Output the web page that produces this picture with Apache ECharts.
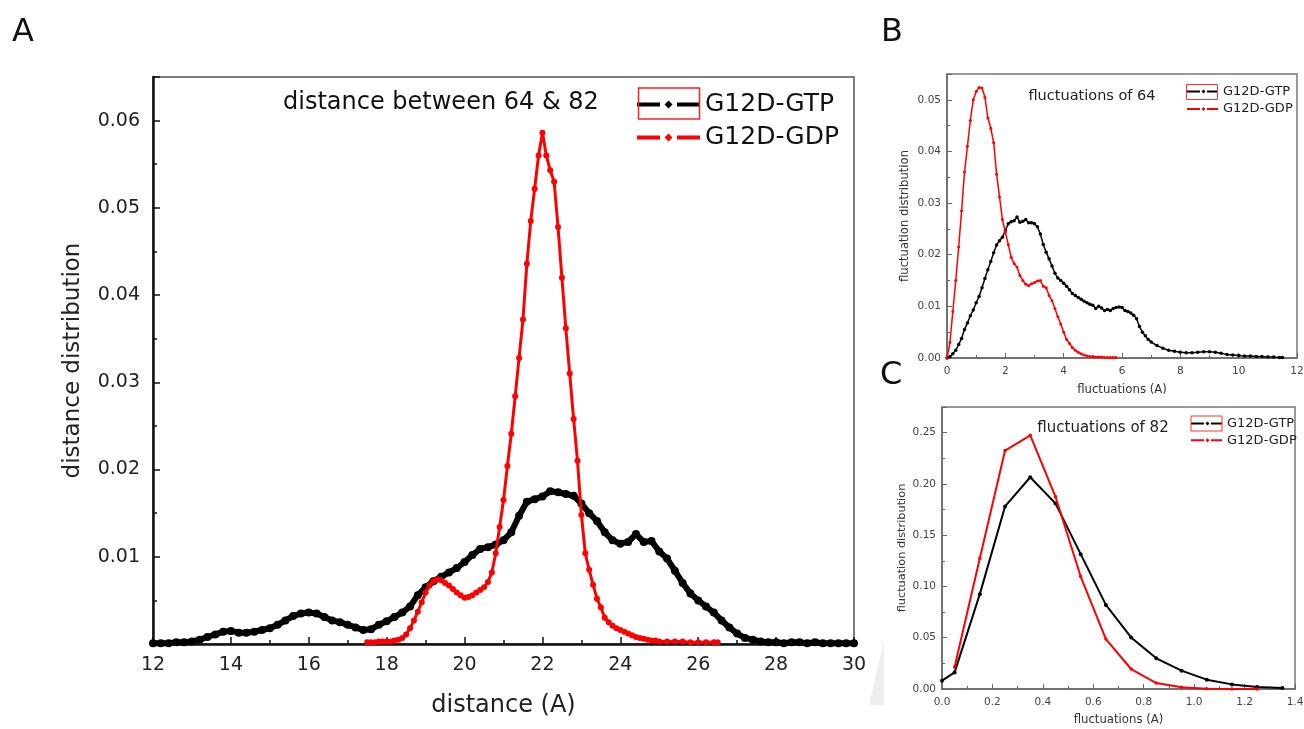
<!DOCTYPE html>
<html>
<head>
<meta charset="utf-8">
<script src="https://cdn.jsdelivr.net/npm/echarts@6/dist/echarts.min.js"></script>
<style>
  html, body { margin: 0; padding: 0; background: #fff; }
  #chart { width: 1304px; height: 729px; }
</style>
</head>
<body>
<div id="chart"></div>
<script>
// ---- Panel A: distance between residues 64 & 82 ----
const distGTP = [
  [12.0,0.0001],[12.2,0.0001],[12.4,0.0001],[12.6,0.0002],[12.8,0.0002],[13.0,0.0003],[13.2,0.0005],[13.4,0.0008],
  [13.6,0.0011],[13.8,0.0014],[14.0,0.0015],[14.2,0.0013],[14.4,0.0013],[14.6,0.0014],[14.8,0.0016],[15.0,0.0018],
  [15.2,0.0022],[15.4,0.0027],[15.6,0.0032],[15.8,0.0035],[16.0,0.0036],[16.2,0.0035],[16.4,0.0031],[16.6,0.0027],
  [16.8,0.0025],[17.0,0.0022],[17.2,0.0019],[17.4,0.0016],[17.6,0.0017],[17.8,0.0022],[18.0,0.0026],[18.2,0.0031],
  [18.4,0.0036],[18.6,0.0043],[18.8,0.0056],[19.0,0.0065],[19.2,0.0072],[19.4,0.0077],[19.6,0.0082],[19.8,0.0087],
  [20.0,0.0094],[20.2,0.0102],[20.4,0.0109],[20.6,0.0111],[20.8,0.0114],[21.0,0.0119],[21.2,0.0128],[21.4,0.0147],
  [21.6,0.0163],[21.8,0.0166],[22.0,0.0169],[22.2,0.0175],[22.4,0.0174],[22.6,0.0172],[22.8,0.0170],[23.0,0.0161],
  [23.2,0.0150],[23.4,0.0141],[23.6,0.0128],[23.8,0.0119],[24.0,0.0115],[24.2,0.0117],[24.4,0.0126],[24.6,0.0117],
  [24.8,0.0118],[25.0,0.0106],[25.2,0.0098],[25.4,0.0084],[25.6,0.0070],[25.8,0.0058],[26.0,0.0050],[26.2,0.0043],
  [26.4,0.0036],[26.6,0.0027],[26.8,0.0019],[27.0,0.0012],[27.2,0.0007],[27.4,0.0005],[27.6,0.0003],[27.8,0.0002],
  [28.0,0.0002],[28.2,0.0001],[28.4,0.0002],[28.6,0.0002],[28.8,0.0001],[29.0,0.0002],[29.2,0.0001],[29.4,0.0001],
  [29.6,0.0001],[29.8,0.0001],[30.0,0.0001]
];
const distGDP = [
  [17.5,0.0002],[17.6,0.0002],[17.7,0.0002],[17.8,0.0003],[17.9,0.0003],[18.0,0.0003],[18.1,0.0003],[18.2,0.0004],
  [18.3,0.0005],[18.4,0.0007],[18.5,0.0011],[18.6,0.0018],[18.7,0.0027],[18.8,0.0037],[18.9,0.0048],[19.0,0.0059],
  [19.1,0.0067],[19.2,0.0072],[19.3,0.0074],[19.4,0.0073],[19.5,0.0070],[19.6,0.0067],[19.7,0.0063],[19.8,0.0059],
  [19.9,0.0056],[20.0,0.0053],[20.1,0.0054],[20.2,0.0056],[20.3,0.0059],[20.4,0.0062],[20.5,0.0065],[20.6,0.0071],
  [20.7,0.0082],[20.8,0.0104],[20.9,0.0134],[21.0,0.0165],[21.1,0.0204],[21.2,0.0241],[21.3,0.0284],[21.4,0.0328],
  [21.5,0.0372],[21.6,0.0436],[21.7,0.0485],[21.8,0.0522],[21.9,0.0560],[22.0,0.0586],[22.1,0.0560],[22.2,0.0543],
  [22.3,0.0530],[22.4,0.0478],[22.5,0.0420],[22.6,0.0362],[22.7,0.0310],[22.8,0.0258],[22.9,0.0210],[23.0,0.0148],
  [23.1,0.0104],[23.2,0.0085],[23.3,0.0068],[23.4,0.0052],[23.5,0.0042],[23.6,0.0030],[23.7,0.0025],[23.8,0.0021],
  [23.9,0.0018],[24.0,0.0016],[24.1,0.0014],[24.2,0.0012],[24.3,0.0010],[24.4,0.0008],[24.5,0.0007],[24.6,0.0006],
  [24.7,0.0005],[24.8,0.0004],[24.9,0.0004],[25.0,0.0003],[25.2,0.0003],[25.4,0.0003],[25.6,0.0003],[25.8,0.0002],
  [26.0,0.0002],[26.2,0.0002],[26.4,0.0002],[26.5,0.0002]
];

// ---- Panel B: fluctuations of residue 64 ----
const fluc64GTP = [
  [0.0,0.0000],[0.1,0.0003],[0.2,0.0008],[0.3,0.0015],[0.4,0.0026],[0.5,0.0038],[0.6,0.0055],[0.7,0.0068],
  [0.8,0.0082],[0.9,0.0093],[1.0,0.0107],[1.1,0.0119],[1.2,0.0136],[1.3,0.0154],[1.4,0.0171],[1.5,0.0187],
  [1.6,0.0204],[1.7,0.0219],[1.8,0.0227],[1.9,0.0234],[2.0,0.0247],[2.1,0.0260],[2.2,0.0264],[2.3,0.0266],
  [2.4,0.0273],[2.5,0.0263],[2.6,0.0265],[2.7,0.0268],[2.8,0.0262],[2.9,0.0262],[3.0,0.0260],[3.1,0.0254],
  [3.2,0.0240],[3.3,0.0220],[3.4,0.0205],[3.5,0.0192],[3.6,0.0178],[3.7,0.0164],[3.8,0.0155],[3.9,0.0150],
  [4.0,0.0145],[4.1,0.0139],[4.2,0.0132],[4.3,0.0125],[4.4,0.0121],[4.5,0.0117],[4.6,0.0114],[4.7,0.0110],
  [4.8,0.0107],[4.9,0.0104],[5.0,0.0102],[5.1,0.0096],[5.2,0.0100],[5.3,0.0097],[5.4,0.0092],[5.5,0.0094],
  [5.6,0.0092],[5.7,0.0096],[5.8,0.0098],[5.9,0.0099],[6.0,0.0098],[6.1,0.0092],[6.2,0.0090],[6.3,0.0087],
  [6.4,0.0083],[6.5,0.0076],[6.6,0.0061],[6.7,0.0050],[6.8,0.0043],[6.9,0.0036],[7.0,0.0031],[7.2,0.0024],
  [7.4,0.0019],[7.6,0.0015],[7.8,0.0013],[8.0,0.0011],[8.2,0.0010],[8.4,0.0010],[8.6,0.0011],[8.8,0.0012],
  [9.0,0.0012],[9.2,0.0011],[9.4,0.0009],[9.6,0.0007],[9.8,0.0006],[10.0,0.0005],[10.2,0.0004],[10.4,0.0004],
  [10.6,0.0003],[10.8,0.0003],[11.0,0.0002],[11.2,0.0002],[11.4,0.0001],[11.5,0.0001]
];
const fluc64GDP = [
  [0.0,0.0000],[0.1,0.0030],[0.2,0.0090],[0.3,0.0150],[0.4,0.0215],[0.5,0.0285],[0.6,0.0360],[0.7,0.0410],
  [0.8,0.0460],[0.9,0.0500],[1.0,0.0516],[1.1,0.0524],[1.2,0.0523],[1.3,0.0505],[1.4,0.0465],[1.5,0.0445],
  [1.6,0.0417],[1.7,0.0356],[1.8,0.0312],[1.9,0.0268],[2.0,0.0244],[2.1,0.0220],[2.2,0.0195],[2.3,0.0183],
  [2.4,0.0176],[2.5,0.0160],[2.6,0.0150],[2.7,0.0143],[2.8,0.0140],[2.9,0.0144],[3.0,0.0146],[3.1,0.0149],
  [3.2,0.0150],[3.3,0.0139],[3.4,0.0136],[3.5,0.0121],[3.6,0.0111],[3.7,0.0096],[3.8,0.0080],[3.9,0.0066],
  [4.0,0.0050],[4.1,0.0036],[4.2,0.0028],[4.3,0.0020],[4.4,0.0015],[4.5,0.0011],[4.6,0.0008],[4.7,0.0006],
  [4.8,0.0004],[4.9,0.0003],[5.0,0.0003],[5.1,0.0002],[5.2,0.0002],[5.3,0.0002],[5.4,0.0001],[5.5,0.0001],
  [5.6,0.0001],[5.7,0.0001],[5.8,0.0001]
];

// ---- Panel C: fluctuations of residue 82 ----
const fluc82GTP = [
  [0.00,0.0081],[0.05,0.0162],[0.15,0.0925],[0.25,0.1780],[0.35,0.2065],[0.45,0.1810],[0.55,0.1315],
  [0.65,0.0820],[0.75,0.0503],[0.85,0.0299],[0.95,0.0179],[1.05,0.0091],[1.15,0.0045],[1.25,0.0020],[1.35,0.0010]
];
const fluc82GDP = [
  [0.05,0.0214],[0.15,0.1276],[0.25,0.2325],[0.35,0.2474],[0.45,0.1877],[0.55,0.1097],[0.65,0.0487],
  [0.75,0.0195],[0.85,0.0058],[0.95,0.0016],[1.05,0.0003],[1.15,0.0001],[1.25,0.0000]
];

const seriesNames = ['G12D-GTP', 'G12D-GDP'];
const FONT = 'DejaVu Sans';
const BLACK = '#000000';
const RED = '#ff0000';

// legend icon: dash, diamond, dash
const iconA = 'path://M0,2H23V6H0Z M40,2H63V6H40Z M31.5,0L35.5,4L31.5,8L27.5,4Z';
const iconS = 'path://M0,1H13V3H0Z M20,1H31V3H20Z M16.5,0L18.5,2L16.5,4L14.5,2Z';

function valueAxis(o) {
  const axisColor = o.axisColor;
  return {
    type: 'value',
    gridIndex: o.grid,
    min: o.min, max: o.max, interval: o.interval,
    axisLine: { show: true, onZero: false, lineStyle: { color: axisColor, width: o.lineWidth } },
    axisTick: { show: true, inside: true, length: o.tickLen, lineStyle: { color: axisColor, width: o.tickWidth } },
    minorTick: { show: true, splitNumber: 2, length: o.minorLen, lineStyle: { color: axisColor, width: o.tickWidth } },
    splitLine: { show: false },
    axisLabel: {
      fontFamily: FONT, fontSize: o.labelSize, color: o.labelColor, margin: o.labelMargin,
      showMaxLabel: o.showMax, formatter: o.formatter
    },
    name: o.name, nameLocation: 'middle', nameGap: o.nameGap,
    nameTextStyle: { fontFamily: FONT, fontSize: o.nameSize, color: o.nameColor }
  };
}

const grids = [
  { left: 153, top: 77, width: 701, height: 567 },
  { left: 947, top: 74, width: 350, height: 284 },
  { left: 942, top: 407, width: 353, height: 282 }
];

const option = {
  animation: false,
  backgroundColor: '#ffffff',
  grid: grids.map((g, i) => Object.assign({
    show: true,
    borderColor: i === 0 ? '#555555' : '#777777',
    borderWidth: 1.5,
    backgroundColor: 'transparent',
    containLabel: false,
    outerBoundsMode: 'none'
  }, g)),
  xAxis: [
    valueAxis({ grid: 0, min: 12, max: 30, interval: 2, axisColor: '#111', lineWidth: 2.5, tickLen: 7, minorLen: 4, tickWidth: 1.5,
      labelSize: 19, labelColor: '#222', labelMargin: 12, showMax: true, formatter: v => String(v),
      name: 'distance (A)', nameGap: 50, nameSize: 24, nameColor: '#222' }),
    valueAxis({ grid: 1, min: 0, max: 12, interval: 2, axisColor: '#666', lineWidth: 1.5, tickLen: 5, minorLen: 3, tickWidth: 1,
      labelSize: 10.5, labelColor: '#444', labelMargin: 8, showMax: true, formatter: v => String(v),
      name: 'fluctuations (A)', nameGap: 26, nameSize: 11.7, nameColor: '#333' }),
    valueAxis({ grid: 2, min: 0, max: 1.4, interval: 0.2, axisColor: '#666', lineWidth: 1.5, tickLen: 5, minorLen: 3, tickWidth: 1,
      labelSize: 10.5, labelColor: '#444', labelMargin: 8, showMax: true, formatter: v => v.toFixed(1),
      name: 'fluctuations (A)', nameGap: 25, nameSize: 11.7, nameColor: '#333' })
  ],
  yAxis: [
    valueAxis({ grid: 0, min: 0, max: 0.065, interval: 0.01, axisColor: '#111', lineWidth: 2.5, tickLen: 7, minorLen: 4, tickWidth: 1.5,
      labelSize: 19, labelColor: '#222', labelMargin: 13, showMax: false,
      formatter: v => (v < 0.005 || v > 0.0605) ? '' : v.toFixed(2),
      name: 'distance distribution', nameGap: 68, nameSize: 23, nameColor: '#222' }),
    valueAxis({ grid: 1, min: 0, max: 0.055, interval: 0.01, axisColor: '#666', lineWidth: 1.5, tickLen: 5, minorLen: 3, tickWidth: 1,
      labelSize: 10.5, labelColor: '#444', labelMargin: 6, showMax: false,
      formatter: v => v > 0.0505 ? '' : v.toFixed(2),
      name: 'fluctuation distribution', nameGap: 36, nameSize: 11.6, nameColor: '#333' }),
    valueAxis({ grid: 2, min: 0, max: 0.275, interval: 0.05, axisColor: '#666', lineWidth: 1.5, tickLen: 5, minorLen: 3, tickWidth: 1,
      labelSize: 10.5, labelColor: '#444', labelMargin: 6, showMax: false,
      formatter: v => v > 0.2505 ? '' : v.toFixed(2),
      name: 'fluctuation distribution', nameGap: 34, nameSize: 11.3, nameColor: '#333' })
  ],
  legend: [
    { data: seriesNames, orient: 'vertical', left: 637, top: 92, padding: 0, itemWidth: 63, itemHeight: 8, itemGap: 8,
      icon: iconA, selectedMode: false,
      textStyle: { fontFamily: FONT, fontSize: 25, lineHeight: 25, color: '#111' } },
    { data: seriesNames, orient: 'vertical', left: 1187, top: 85, padding: 0, itemWidth: 31, itemHeight: 4, itemGap: 4.6,
      icon: iconS, selectedMode: false, itemTextGap: 4,
      textStyle: { fontFamily: FONT, fontSize: 13, lineHeight: 13, color: '#222' } },
    { data: seriesNames, orient: 'vertical', left: 1191, top: 417, padding: 0, itemWidth: 31, itemHeight: 4, itemGap: 3.7,
      icon: iconS, selectedMode: false,
      textStyle: { fontFamily: FONT, fontSize: 13, lineHeight: 13, color: '#222' } }
  ],
  series: [
    { name: seriesNames[0], type: 'line', xAxisIndex: 0, yAxisIndex: 0, data: distGTP, color: BLACK,
      symbol: 'circle', symbolSize: 8, lineStyle: { width: 6, color: BLACK }, itemStyle: { color: BLACK }, z: 3 },
    { name: seriesNames[1], type: 'line', xAxisIndex: 0, yAxisIndex: 0, data: distGDP, color: RED,
      symbol: 'circle', symbolSize: 6, lineStyle: { width: 3, color: RED }, itemStyle: { color: RED }, z: 4 },
    { name: seriesNames[0], type: 'line', xAxisIndex: 1, yAxisIndex: 1, data: fluc64GTP, color: BLACK,
      symbol: 'circle', symbolSize: 3.5, lineStyle: { width: 1.5, color: BLACK }, itemStyle: { color: BLACK }, z: 3 },
    { name: seriesNames[1], type: 'line', xAxisIndex: 1, yAxisIndex: 1, data: fluc64GDP, color: RED,
      symbol: 'circle', symbolSize: 3, lineStyle: { width: 1.5, color: RED }, itemStyle: { color: RED }, z: 4 },
    { name: seriesNames[0], type: 'line', xAxisIndex: 2, yAxisIndex: 2, data: fluc82GTP, color: BLACK,
      symbol: 'circle', symbolSize: 4, lineStyle: { width: 2, color: BLACK }, itemStyle: { color: BLACK }, z: 3 },
    { name: seriesNames[1], type: 'line', xAxisIndex: 2, yAxisIndex: 2, data: fluc82GDP, color: RED,
      symbol: 'circle', symbolSize: 3.5, lineStyle: { width: 2, color: RED }, itemStyle: { color: RED }, z: 4 }
  ],
  graphic: [
    // panel letters
    { type: 'text', left: 12, top: 17, style: { text: 'A', font: '32px "DejaVu Sans"', fill: '#111' } },
    { type: 'text', left: 881, top: 17, style: { text: 'B', font: '32px "DejaVu Sans"', fill: '#111' } },
    { type: 'text', left: 880, top: 360, style: { text: 'C', font: '32px "DejaVu Sans"', fill: '#111' } },
    // panel titles
    { type: 'text', x: 283, y: 103, style: { text: 'distance between 64 & 82', font: '24px "DejaVu Sans"', fill: '#111',
      textAlign: 'left', align: 'left', textVerticalAlign: 'middle', verticalAlign: 'middle' } },
    { type: 'text', x: 1092, y: 96, style: { text: 'fluctuations of 64', font: '14.5px "DejaVu Sans"', fill: '#222',
      textAlign: 'center', align: 'center', textVerticalAlign: 'middle', verticalAlign: 'middle' } },
    { type: 'text', x: 1103, y: 428, style: { text: 'fluctuations of 82', font: '15px "DejaVu Sans"', fill: '#222',
      textAlign: 'center', align: 'center', textVerticalAlign: 'middle', verticalAlign: 'middle' } },
    // selection frames around the first legend icon of each panel
    { type: 'rect', shape: { x: 638.5, y: 88, width: 61, height: 31 }, style: { fill: 'none', stroke: '#ff2020', lineWidth: 1.5 }, z: 10 },
    { type: 'rect', shape: { x: 1186.5, y: 84.5, width: 31, height: 15 }, style: { fill: 'none', stroke: '#ff3030', lineWidth: 1 }, z: 10 },
    { type: 'rect', shape: { x: 1191, y: 416, width: 31, height: 15 }, style: { fill: 'none', stroke: '#ff3030', lineWidth: 1 }, z: 10 },
    // faint shading in the gap beside panel C
    { type: 'polygon', shape: { points: [[884, 640], [884, 705], [869, 705]] }, style: { fill: '#eeeeee' }, z: 0 }
  ]
};

const chart = echarts.init(document.getElementById('chart'), null, { renderer: 'canvas' });
chart.setOption(option);
</script>
</body>
</html>
